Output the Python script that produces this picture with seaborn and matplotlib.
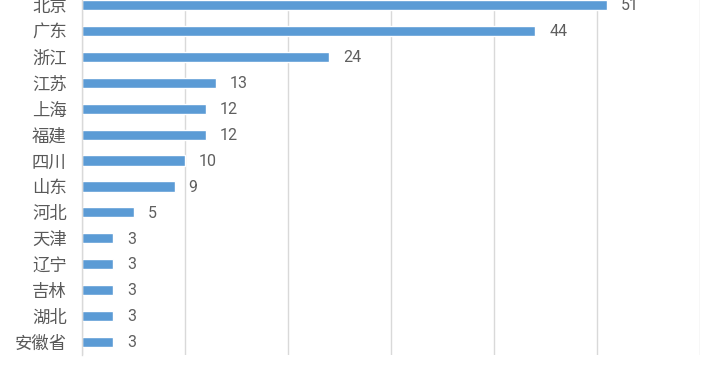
import pandas as pd
import numpy as np
import matplotlib.pyplot as plt
import seaborn as sns

# 各省份数量
provinces = ['北京', '广东', '浙江', '江苏', '上海', '福建', '四川', '山东',
             '河北', '天津', '辽宁', '吉林', '湖北', '安徽省']
counts = [51, 44, 24, 13, 12, 12, 10, 9, 5, 3, 3, 3, 3, 3]
xticks = [0, 10, 20, 30, 40, 50, 60]

df = pd.DataFrame({'省份': provinces, '数量': counts})

sns.set_style('white')
plt.rcParams['font.family'] = ['Noto Sans CJK SC', 'DejaVu Sans']

fig = plt.figure(figsize=(7.2, 3.72), dpi=100)
# 图表区域超出画布（原图是截取的）
ax = fig.add_axes([82 / 720, 17 / 372, 618 / 720, 363 / 372])

sns.barplot(data=df, y='省份', x='数量', orient='h', color='#5b9bd5',
            saturation=1, width=0.39, ax=ax)

ax.set_xlim(0, 60)
ax.set_ylim(len(provinces) - 0.5, -0.5)
ax.set_xticks(xticks)
ax.set_xticklabels([str(t) for t in xticks])
ax.grid(axis='x', color='#d9d9d9', linewidth=1)
ax.set_axisbelow(True)
for s in ['top', 'right', 'bottom']:
    ax.spines[s].set_visible(False)
ax.spines['left'].set_color('#d9d9d9')
ax.spines['left'].set_linewidth(1)
ax.tick_params(axis='y', length=0, pad=11, labelsize=12.5, labelcolor='#595959')
ax.tick_params(axis='x', length=0, pad=14, labelsize=11, labelcolor='#595959')
for lbl in ax.get_xticklabels():
    lbl.set_family(['Roboto', 'DejaVu Sans'])
ax.set_xlabel('')
ax.set_ylabel('')

for i, v in enumerate(counts):
    ax.annotate(str(v), xy=(v, i), xytext=(10, -0.5), textcoords='offset points',
                va='center', ha='left', fontsize=11.5, color='#5f5f5f',
                family=['Roboto', 'DejaVu Sans'])

plt.savefig('out.png', dpi=100)
